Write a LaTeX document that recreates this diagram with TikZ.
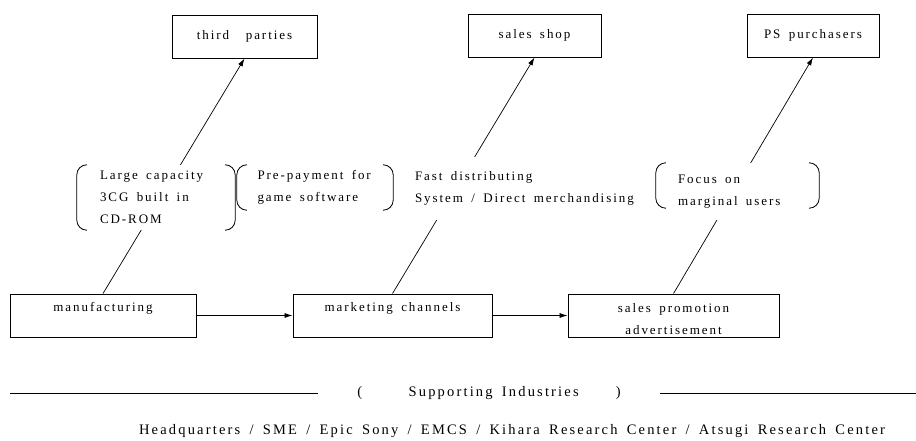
\documentclass[tikz,border=0pt]{standalone}
\usepackage{fontspec}
\newfontfamily\chartfont[LetterSpace=15,WordSpace=1.6]{Liberation Serif}
\usetikzlibrary{arrows.meta,backgrounds}

\begin{document}
\begin{tikzpicture}[x=1pt, y=-1pt,
  font=\chartfont\fontsize{13pt}{22pt}\selectfont,
  box/.style={draw, line width=0.9pt, inner sep=0pt, align=center},
  group/.style={fill=white, inner ysep=0pt, align=flush left},
  paren/.style={line width=0.8pt, rounded corners=10pt},
  link/.style={line width=0.7pt, -{Latex[length=8pt,width=5pt]}}]
\useasboundingbox (0,0) rectangle (916,441);
% targets
\node[box, minimum width=145pt, minimum height=43pt] (third) at (244.5,36.5) {third\ \ parties};
\node[box, minimum width=133pt, minimum height=43pt] (shop) at (534.5,35.5) {sales shop};
\node[box, minimum width=132pt, minimum height=43pt] (purch) at (813,35.5) {PS purchasers};
% chain
\node[box, minimum width=186pt, minimum height=43pt] (manuf) at (103,315.5) {\rule{0pt}{17pt}manufacturing\\\phantom{g}};
\node[box, minimum width=199pt, minimum height=43pt] (channels) at (392.5,315.5) {\rule{0pt}{17pt}marketing channels\\\phantom{g}};
\node[box, minimum width=211pt, minimum height=43pt] (promo) at (673.5,315.5) {\rule{0pt}{17pt}sales promotion\\advertisement};
\draw[link] (manuf) -- (channels);
\draw[link] (channels) -- (promo);
% strengths
\node[group, text width=112pt, inner xsep=23pt, minimum height=65pt] (cdrom) at (156,197.5) {Large capacity\\3CG built in\\CD-ROM};
\node[group, text width=115pt, inner xsep=20.5pt, minimum height=45pt] (prepay) at (315,187.5) {Pre-payment for\\game software};
\node[group, text width=224pt, inner xsep=0pt, minimum height=63pt] (distrib) at (527,188.5) {Fast distributing\\System / Direct merchandising};
\node[group, text width=119pt, inner xsep=22pt, minimum height=57pt] (focus) at (737.5,191.5) {Focus on\\marginal users};
\draw[paren] ([xshift=9pt]cdrom.north west) -- (cdrom.north west) -- (cdrom.south west) -- ([xshift=9pt]cdrom.south west);
\draw[paren] ([xshift=-9pt]cdrom.north east) -- (cdrom.north east) -- (cdrom.south east) -- ([xshift=-9pt]cdrom.south east);
\draw[paren] ([xshift=9pt]prepay.north west) -- (prepay.north west) -- (prepay.south west) -- ([xshift=9pt]prepay.south west);
\draw[paren] ([xshift=-9pt]prepay.north east) -- (prepay.north east) -- (prepay.south east) -- ([xshift=-9pt]prepay.south east);
\draw[paren] ([xshift=9pt]focus.north west) -- (focus.north west) -- ([yshift=12pt]focus.south west) -- ([xshift=9pt,yshift=12pt]focus.south west);
\draw[paren] ([xshift=-9pt]focus.north east) -- (focus.north east) -- ([yshift=12pt]focus.south east) -- ([xshift=-9pt,yshift=12pt]focus.south east);
\begin{scope}[on background layer]
\draw[link] (manuf.north) -- (third.south);
\draw[link] (channels.north) -- (shop.south);
\draw[link] (promo.north) -- (purch.south);
\end{scope}
% supporting industries
\node[inner xsep=39pt, font=\chartfont\fontsize{14.5pt}{17pt}\selectfont] (support) at (489,393) {(\ \ \ \ \ Supporting Industries\ \ \ \ )};
\coordinate (railL) at (10,393);
\coordinate (railR) at (916,393);
\draw[line width=0.7pt] (railL) -- (support) -- (railR);
\node[font=\chartfont\fontsize{14.5pt}{17pt}\selectfont] (units) at (512,431) {Headquarters / SME / Epic Sony / EMCS / Kihara Research Center / Atsugi Research Center};
\end{tikzpicture}
\end{document}
